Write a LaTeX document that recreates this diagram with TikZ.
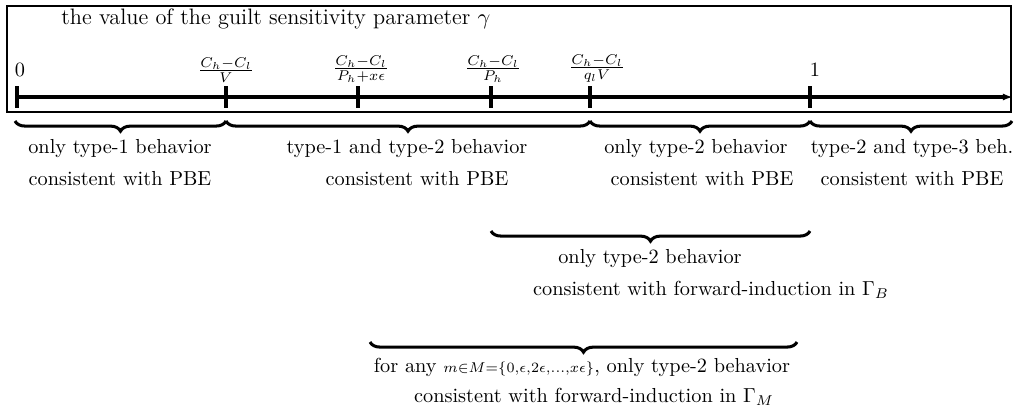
\documentclass[tikz,border=0pt]{standalone}
\usetikzlibrary{decorations.pathreplacing,arrows.meta}
\begin{document}
\begin{tikzpicture}[x=0.4926pt,y=-0.4926pt,
  axisline/.style={line width=2.2pt},
  tickmark/.style={line width=2.4pt},
  bracestyle/.style={decorate,decoration={brace,mirror,amplitude=5pt},line width=1.5pt},
  txt/.style={anchor=base,inner sep=0pt},
  ticklab/.style={anchor=south,inner sep=0pt},
  numlab/.style={anchor=base,inner sep=0pt}]
\useasboundingbox (0,0) rectangle (1017,415);
\draw[line width=1.3pt] (7,6) rectangle (1011,112);
\node[anchor=base west,inner sep=0pt,font=\fontsize{11}{13}\selectfont] (title) at (61,24) {the value of the guilt sensitivity parameter $\gamma$};
% ticks
\coordinate (t0) at (17,97);
\coordinate (t1) at (226,97);
\coordinate (t2) at (358,97);
\coordinate (t3) at (491,97);
\coordinate (t4) at (590,97);
\coordinate (t5) at (810,97);
\coordinate (tend) at (1013,97);
\draw[axisline,-{Latex[length=5pt,width=3.5pt]}] (t0) -- (tend);
\foreach \t in {t0,t1,t2,t3,t4,t5}
  \draw[tickmark] ([yshift=5.3pt]\t) -- ([yshift=-5.3pt]\t);
% tick labels
\node[numlab] (l0) at (20,76) {0};
\node[ticklab] (l1) at (226,83) {$\frac{C_h-C_l}{V}$};
\node[ticklab] (l2) at (361,83) {$\frac{C_h-C_l}{P_h+x\epsilon}$};
\node[ticklab] (l3) at (493,83) {$\frac{C_h-C_l}{P_h}$};
\node[ticklab] (l4) at (597,83) {$\frac{C_h-C_l}{q_l V}$};
\node[numlab] (l5) at (815,76) {1};
% brace end points
\coordinate (a0) at (15,121);
\coordinate (a1) at (226,121);
\coordinate (a2) at (590,121);
\coordinate (a3) at (810,121);
\coordinate (a4) at (1012,121);
\coordinate (b0) at (491,231);
\coordinate (b1) at (810,231);
\coordinate (c0) at (370,342);
\coordinate (c1) at (797,342);
\draw[bracestyle] (a0) -- (a1);
\draw[bracestyle] (a1) -- (a2);
\draw[bracestyle] (a2) -- (a3);
\draw[bracestyle] (a3) -- (a4);
\draw[bracestyle] (b0) -- (b1);
\draw[bracestyle] (c0) -- (c1);
% row 1 texts
\node[txt] (r1a1) at (120,153) {only type-1 behavior};
\node[txt] (r1a2) at (120,185) {consistent with PBE};
\node[txt] (r1b1) at (407,153) {type-1 and type-2 behavior};
\node[txt] (r1b2) at (417,185) {consistent with PBE};
\node[txt] (r1c1) at (696,153) {only type-2 behavior};
\node[txt] (r1c2) at (702,185) {consistent with PBE};
\node[txt] (r1d1) at (912,153) {type-2 and type-3 beh.};
\node[txt] (r1d2) at (912,185) {consistent with PBE};
% row 2
\node[txt] (r2a) at (650,263) {only type-2 behavior};
\node[txt] (r2b) at (711,295) {consistent with forward-induction in $\Gamma_B$};
% row 3
\node[txt] (r3a) at (582,372) {for any $\scriptstyle m\in M=\{0,\epsilon,2\epsilon,\ldots,x\epsilon\}$, only type-2 behavior};
\node[txt] (r3b) at (594,402) {consistent with forward-induction in $\Gamma_M$};
\end{tikzpicture}
\end{document}
